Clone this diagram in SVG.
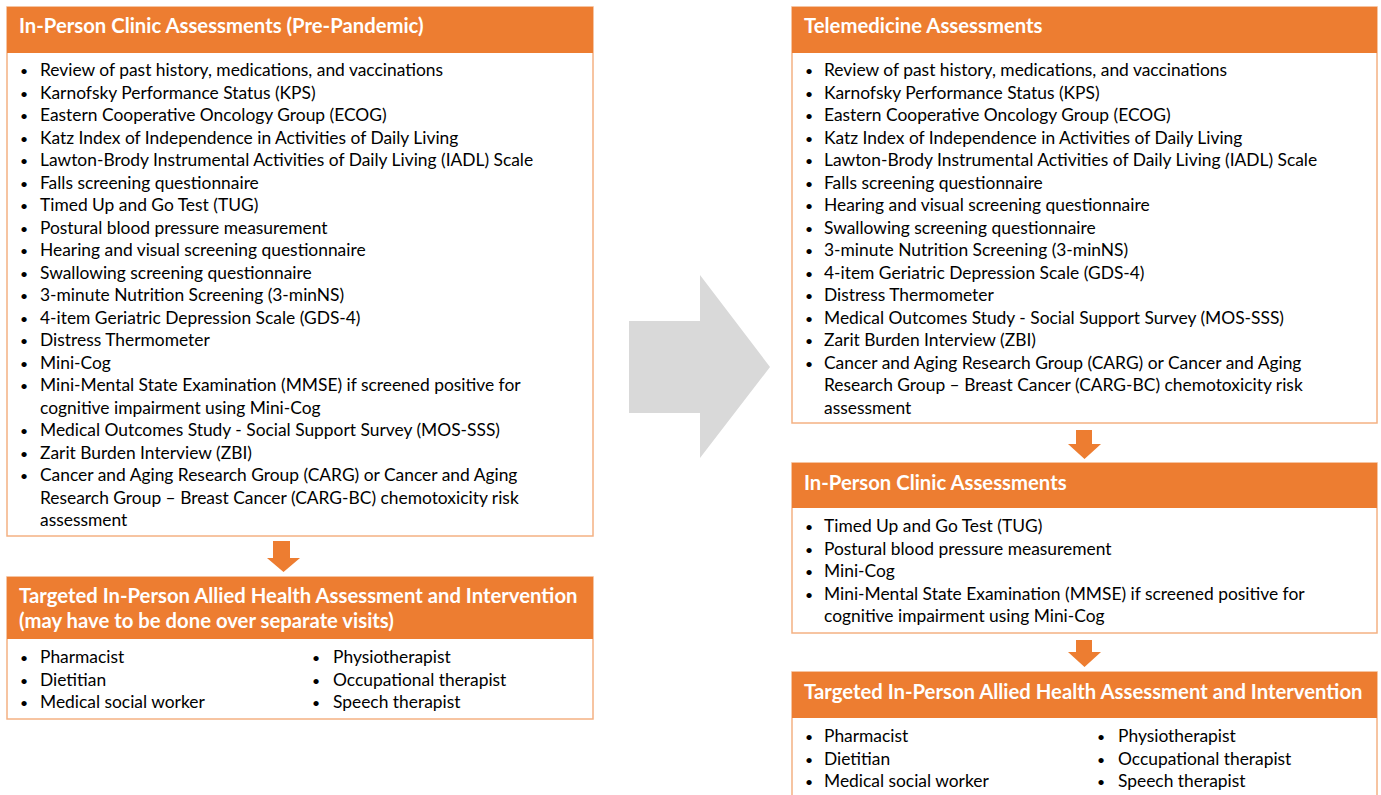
<svg xmlns="http://www.w3.org/2000/svg" width="1381" height="795" viewBox="0 0 1381 795">
<style>
.box{fill:#ffffff;stroke:#f4b183;stroke-width:1.5}
.hdr{fill:#ed7d31}
.ht{font-family:Lato,"Liberation Sans",sans-serif;font-weight:bold;font-size:20.3px;fill:#ffffff}
.t{font-family:Lato,"Liberation Sans",sans-serif;font-size:17.4px;fill:#000000}
.b{font-size:14px}
.arr{fill:#ed7d31}
.big{fill:#d9d9d9}
</style>
<rect width="1381" height="795" fill="#ffffff"/>
<g id="connectors">
<polygon class="big" points="629,321 700,321 700,275 770,367 700,458 700,413 629,413"/>
<polygon class="arr" points="273,541 290,541 290,558 300,558 283.5,572 267,558 273,558"/>
<polygon class="arr" points="1076,430 1092,430 1092,444 1101,444 1084.5,459 1068,444 1076,444"/>
<polygon class="arr" points="1076,640 1092,640 1092,652 1101,652 1084.5,667 1068,652 1076,652"/>
</g>
<g id="pre-pandemic">
<rect class="box" x="7" y="7" width="586" height="529"/>
<rect class="hdr" x="7" y="7" width="586" height="46"/>
<text class="ht" x="19" y="33">In-Person Clinic Assessments (Pre-Pandemic)</text>
<g class="t">
<text class="b" x="20" y="76">•</text><text x="40" y="76">Review of past history, medications, and vaccinations</text>
<text class="b" x="20" y="98.5">•</text><text x="40" y="98.5">Karnofsky Performance Status (KPS)</text>
<text class="b" x="20" y="121">•</text><text x="40" y="121">Eastern Cooperative Oncology Group (ECOG)</text>
<text class="b" x="20" y="143.5">•</text><text x="40" y="143.5">Katz Index of Independence in Activities of Daily Living</text>
<text class="b" x="20" y="166">•</text><text x="40" y="166">Lawton-Brody Instrumental Activities of Daily Living (IADL) Scale</text>
<text class="b" x="20" y="188.5">•</text><text x="40" y="188.5">Falls screening questionnaire</text>
<text class="b" x="20" y="211">•</text><text x="40" y="211">Timed Up and Go Test (TUG)</text>
<text class="b" x="20" y="233.5">•</text><text x="40" y="233.5">Postural blood pressure measurement</text>
<text class="b" x="20" y="256">•</text><text x="40" y="256">Hearing and visual screening questionnaire</text>
<text class="b" x="20" y="278.5">•</text><text x="40" y="278.5">Swallowing screening questionnaire</text>
<text class="b" x="20" y="301">•</text><text x="40" y="301">3-minute Nutrition Screening (3-minNS)</text>
<text class="b" x="20" y="323.5">•</text><text x="40" y="323.5">4-item Geriatric Depression Scale (GDS-4)</text>
<text class="b" x="20" y="346">•</text><text x="40" y="346">Distress Thermometer</text>
<text class="b" x="20" y="368.5">•</text><text x="40" y="368.5">Mini-Cog</text>
<text class="b" x="20" y="391">•</text><text x="40" y="391">Mini-Mental State Examination (MMSE) if screened positive for</text>
<text x="40" y="413.5">cognitive impairment using Mini-Cog</text>
<text class="b" x="20" y="436">•</text><text x="40" y="436">Medical Outcomes Study - Social Support Survey (MOS-SSS)</text>
<text class="b" x="20" y="458.5">•</text><text x="40" y="458.5">Zarit Burden Interview (ZBI)</text>
<text class="b" x="20" y="481">•</text><text x="40" y="481">Cancer and Aging Research Group (CARG) or Cancer and Aging</text>
<text x="40" y="503.5">Research Group – Breast Cancer (CARG-BC) chemotoxicity risk</text>
<text x="40" y="526">assessment</text>
</g>
</g>
<g id="allied-left">
<rect class="box" x="7" y="577" width="586" height="142"/>
<rect class="hdr" x="7" y="577" width="586" height="62"/>
<text class="ht" x="19" y="603">Targeted In-Person Allied Health Assessment and Intervention</text>
<text class="ht" x="19" y="628">(may have to be done over separate visits)</text>
<g class="t">
<text class="b" x="20" y="663">•</text><text x="40" y="663">Pharmacist</text>
<text class="b" x="20" y="685.5">•</text><text x="40" y="685.5">Dietitian</text>
<text class="b" x="20" y="708">•</text><text x="40" y="708">Medical social worker</text>
<text class="b" x="312" y="663">•</text><text x="333" y="663">Physiotherapist</text>
<text class="b" x="312" y="685.5">•</text><text x="333" y="685.5">Occupational therapist</text>
<text class="b" x="312" y="708">•</text><text x="333" y="708">Speech therapist</text>
</g>
</g>
<g id="telemedicine">
<rect class="box" x="792" y="7" width="585" height="416"/>
<rect class="hdr" x="792" y="7" width="585" height="46"/>
<text class="ht" x="804" y="33">Telemedicine Assessments</text>
<g class="t">
<text class="b" x="805" y="76">•</text><text x="824" y="76">Review of past history, medications, and vaccinations</text>
<text class="b" x="805" y="98.5">•</text><text x="824" y="98.5">Karnofsky Performance Status (KPS)</text>
<text class="b" x="805" y="121">•</text><text x="824" y="121">Eastern Cooperative Oncology Group (ECOG)</text>
<text class="b" x="805" y="143.5">•</text><text x="824" y="143.5">Katz Index of Independence in Activities of Daily Living</text>
<text class="b" x="805" y="166">•</text><text x="824" y="166">Lawton-Brody Instrumental Activities of Daily Living (IADL) Scale</text>
<text class="b" x="805" y="188.5">•</text><text x="824" y="188.5">Falls screening questionnaire</text>
<text class="b" x="805" y="211">•</text><text x="824" y="211">Hearing and visual screening questionnaire</text>
<text class="b" x="805" y="233.5">•</text><text x="824" y="233.5">Swallowing screening questionnaire</text>
<text class="b" x="805" y="256">•</text><text x="824" y="256">3-minute Nutrition Screening (3-minNS)</text>
<text class="b" x="805" y="278.5">•</text><text x="824" y="278.5">4-item Geriatric Depression Scale (GDS-4)</text>
<text class="b" x="805" y="301">•</text><text x="824" y="301">Distress Thermometer</text>
<text class="b" x="805" y="323.5">•</text><text x="824" y="323.5">Medical Outcomes Study - Social Support Survey (MOS-SSS)</text>
<text class="b" x="805" y="346">•</text><text x="824" y="346">Zarit Burden Interview (ZBI)</text>
<text class="b" x="805" y="368.5">•</text><text x="824" y="368.5">Cancer and Aging Research Group (CARG) or Cancer and Aging</text>
<text x="824" y="391">Research Group – Breast Cancer (CARG-BC) chemotoxicity risk</text>
<text x="824" y="413.5">assessment</text>
</g>
</g>
<g id="in-person">
<rect class="box" x="792" y="463" width="585" height="170"/>
<rect class="hdr" x="792" y="463" width="585" height="45"/>
<text class="ht" x="804" y="490">In-Person Clinic Assessments</text>
<g class="t">
<text class="b" x="805" y="532">•</text><text x="824" y="532">Timed Up and Go Test (TUG)</text>
<text class="b" x="805" y="554.5">•</text><text x="824" y="554.5">Postural blood pressure measurement</text>
<text class="b" x="805" y="577">•</text><text x="824" y="577">Mini-Cog</text>
<text class="b" x="805" y="599.5">•</text><text x="824" y="599.5">Mini-Mental State Examination (MMSE) if screened positive for</text>
<text x="824" y="622">cognitive impairment using Mini-Cog</text>
</g>
</g>
<g id="allied-right">
<rect class="box" x="792" y="672" width="585" height="140"/>
<rect class="hdr" x="792" y="672" width="585" height="46"/>
<text class="ht" x="804" y="699">Targeted In-Person Allied Health Assessment and Intervention</text>
<g class="t">
<text class="b" x="805" y="742">•</text><text x="824" y="742">Pharmacist</text>
<text class="b" x="805" y="764.5">•</text><text x="824" y="764.5">Dietitian</text>
<text class="b" x="805" y="787">•</text><text x="824" y="787">Medical social worker</text>
<text class="b" x="1097" y="742">•</text><text x="1118" y="742">Physiotherapist</text>
<text class="b" x="1097" y="764.5">•</text><text x="1118" y="764.5">Occupational therapist</text>
<text class="b" x="1097" y="787">•</text><text x="1118" y="787">Speech therapist</text>
</g>
</g>
</svg>
